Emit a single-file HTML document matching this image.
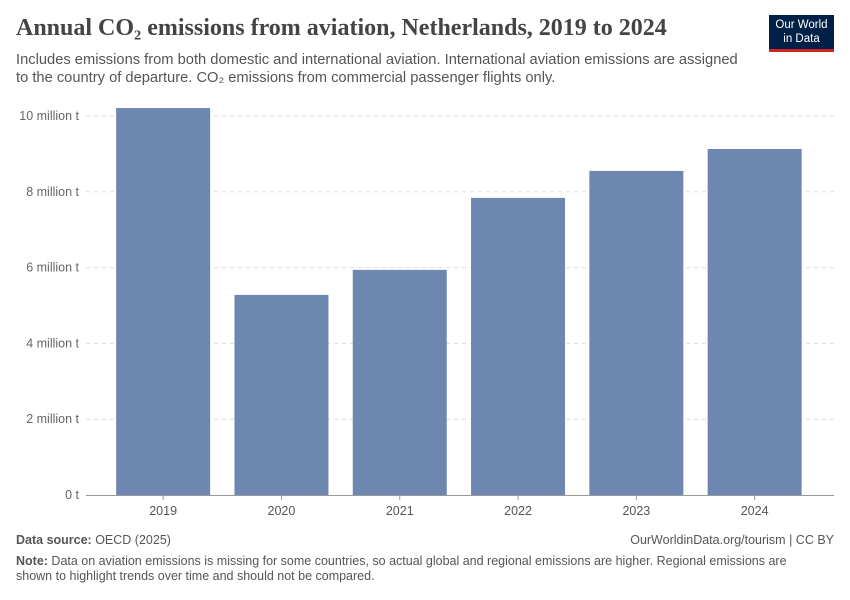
<!DOCTYPE html>
<html><head><meta charset="utf-8"><style>
body{margin:0;width:850px;height:600px;background:#fff;font-family:"Liberation Sans",sans-serif;position:relative;overflow:hidden}
.t{position:absolute;margin:0}
</style></head><body>
<h1 class="t" style="left:16px;top:15px;font-family:'Liberation Serif',serif;font-weight:bold;font-size:24px;color:#444">Annual CO₂ emissions from aviation, Netherlands, 2019 to 2024</h1>
<div class="t" style="left:769px;top:15px;width:65px;height:37px;background:#002147;border-bottom:3px solid #ce261e;color:#fff;font-size:11.5px;line-height:14px;text-align:center;padding-top:3px;box-sizing:border-box">Our World<br>in Data</div>
<p class="t" style="left:16px;top:51px;width:760px;font-size:14.7px;line-height:18px;color:#555;white-space:nowrap">Includes emissions from both domestic and international aviation. International aviation emissions are assigned<br>to the country of departure. CO₂ emissions from commercial passenger flights only.</p>
<svg id="chart" width="850" height="600" style="position:absolute;left:0;top:0"></svg>
<p class="t" style="left:16px;top:533px;font-size:12.5px;color:#555"><b>Data source:</b> OECD (2025)</p>
<p class="t" style="right:16px;top:533px;font-size:12.5px;color:#555">OurWorldinData.org/tourism | CC BY</p>
<p class="t" style="left:16px;top:554px;width:800px;font-size:12.5px;line-height:15px;color:#555"><b>Note:</b> Data on aviation emissions is missing for some countries, so actual global and regional emissions are higher. Regional emissions are shown to highlight trends over time and should not be compared.</p>
<script>
const categories=["2019","2020","2021","2022","2023","2024"];
const values=[10.21,5.28,5.94,7.84,8.55,9.13];
const yTicks=[0,2,4,6,8,10];
const yTickLabels=["0 t","2 million t","4 million t","6 million t","8 million t","10 million t"];
const NS="http://www.w3.org/2000/svg";
const svg=document.getElementById('chart');
const y0=495,pxPer=37.9,x0=104,step=118.3,bw=94;
const y=v=>y0-v*pxPer;
const xc=i=>x0+step*(i+0.5);
function mk(t,a){const e=document.createElementNS(NS,t);for(const k in a)e.setAttribute(k,a[k]);svg.appendChild(e);return e;}
yTicks.forEach((v,i)=>{
  if(v>0){const g=mk('line',{x1:86,x2:834,y1:y(v),y2:y(v),stroke:'#ddd','stroke-dasharray':'4,4'});
  
  }
  const t=mk('text',{x:79,y:y(v)+4,'text-anchor':'end','font-size':12.5,fill:'#666','font-family':'Liberation Sans'});
  t.textContent=yTickLabels[i];
  
  
});
categories.forEach((c,i)=>{
  const r=mk('rect',{x:xc(i)-bw/2,y:y(values[i]),width:bw,height:values[i]*pxPer,fill:'#6d87b0'});
  
  
  const tk=mk('line',{x1:xc(i),x2:xc(i),y1:y0,y2:y0+5,stroke:'#999'});
  
  
  const t=mk('text',{x:xc(i),y:y0+20,'text-anchor':'middle','font-size':12.5,fill:'#555','font-family':'Liberation Sans'});
  t.textContent=c;
  
  
});
const ax=mk('line',{x1:86,x2:834,y1:y0+0.5,y2:y0+0.5,stroke:'#999'});


</script>
</body></html>
